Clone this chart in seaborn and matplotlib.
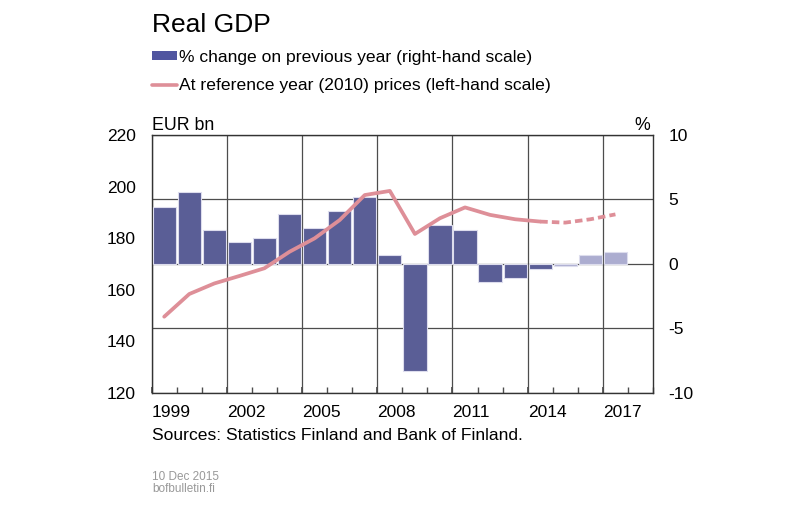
import numpy as np
import pandas as pd
import seaborn as sns
import matplotlib.pyplot as plt
from matplotlib.patches import Patch
from matplotlib.lines import Line2D

# Real GDP, Finland
years = list(range(1999, 2018))
growth = [4.4, 5.6, 2.6, 1.7, 2.0, 3.9, 2.8, 4.1, 5.2, 0.7, -8.3,
          3.0, 2.6, -1.4, -1.1, -0.4, -0.15, 0.7, 0.9]
level = [149.5, 158.3, 162.4, 165.3, 168.3, 174.7, 179.9, 187.0, 196.7, 198.3,
         181.6, 187.7, 191.9, 189.0, 187.3, 186.4, 186.0, 187.3, 189.2]
first_forecast = 2015
tick_years = [1999, 2002, 2005, 2008, 2011, 2014, 2017]

df = pd.DataFrame({"year": years, "growth": growth, "level": level})
df["mid"] = df["year"] + 0.5
df["kind"] = np.where(df["year"] >= first_forecast, "forecast", "actual")

sns.set_theme(style="white")
plt.rcParams["font.family"] = ["Liberation Sans", "DejaVu Sans"]
plt.rcParams["axes.unicode_minus"] = False
plt.rcParams["text.color"] = "black"
plt.rcParams["xtick.color"] = "black"
plt.rcParams["ytick.color"] = "black"

dark_blue = "#5055a0"
light_blue = "#a6a7d6"
pink = "#de8f98"
grid_col = "#4d4d4d"

fig = plt.figure(figsize=(8, 5.23), dpi=100)
ax = fig.add_axes([0.1896, 0.2491, 0.6267, 0.4928])

# bars on the right-hand scale
sns.barplot(data=df, x="mid", y="growth", hue="kind", native_scale=True,
            palette={"actual": dark_blue, "forecast": light_blue},
            dodge=False, width=0.93, legend=False, linewidth=0.8,
            edgecolor="#dddded", ax=ax, zorder=3)
ax.set_ylim(-10, 10)
ax.set_yticks([-10, -5, 0, 5, 10])
ax.set_xlim(1999, 2019)
ax.set_xticks(tick_years)
ax.set_xticklabels([str(y) for y in tick_years], ha="left")
ax.set_xticks(np.arange(1999, 2020), minor=True)
ax.grid(True, which="major", color=grid_col, linewidth=0.9, zorder=0)
ax.set_axisbelow(True)
ax.tick_params(axis="x", which="both", direction="in", length=4, color=grid_col,
               pad=9, labelsize=12.5, bottom=True)
ax.set_xlabel("")
ax.set_ylabel("")
for s in ax.spines.values():
    s.set_color("#333333")
    s.set_linewidth(1)

# line on the left-hand scale
ax2 = ax.twinx()
hist = df[df["year"] <= first_forecast - 1]
fcst = df[df["year"] >= first_forecast - 1]
sns.lineplot(data=hist, x="mid", y="level", color=pink, linewidth=2.7, ax=ax2)
sns.lineplot(data=fcst, x="mid", y="level", color=pink, linewidth=2.7,
             linestyle=(0, (2.0, 1.1)), ax=ax2)
ax2.set_ylim(120, 220)
ax2.set_yticks([120, 140, 160, 180, 200, 220])
ax2.set_xlabel("")
ax2.set_ylabel("")
ax2.grid(False)
for s in ax2.spines.values():
    s.set_visible(False)
ax2.set_xlim(1999, 2019)

# swap sides: growth scale right, level scale left
ax.yaxis.tick_right()
ax.tick_params(axis="y", length=0, pad=11, labelsize=12.5)
ax2.yaxis.tick_left()
ax2.tick_params(axis="y", length=0, pad=11.5, labelsize=12.5)

# texts
fig.text(0.19, 1 - 32 / 523, "Real GDP", fontsize=19, va="baseline", ha="left")
fig.text(0.19, 1 - 130 / 523, "EUR bn", fontsize=12.8, va="baseline", ha="left")
fig.text(0.8125, 1 - 130 / 523, "%", fontsize=12.8, va="baseline", ha="right")
fig.text(0.19, 1 - 440 / 523, "Sources: Statistics Finland and Bank of Finland.",
         fontsize=12.6, va="baseline", ha="left")
fig.text(0.19, 1 - 480 / 523, "10 Dec 2015", fontsize=8.5, color="#999999",
         va="baseline", ha="left")
fig.text(0.19, 1 - 492 / 523, "bofbulletin.fi", fontsize=8.5, color="#999999",
         va="baseline", ha="left")

handles = [Patch(facecolor=dark_blue, edgecolor="none"),
           Line2D([0], [0], color=pink, linewidth=2.6)]
labels = ["% change on previous year (right-hand scale)",
          "At reference year (2010) prices (left-hand scale)"]
fig.legend(handles, labels, loc="upper left", bbox_to_anchor=(0.19, 1 - 50 / 523),
           frameon=False, fontsize=12.6, handlelength=1.4, handleheight=0.45,
           handletextpad=0.15, labelspacing=0.75, borderpad=0, borderaxespad=0)

fig.savefig("out.png", dpi=100)
